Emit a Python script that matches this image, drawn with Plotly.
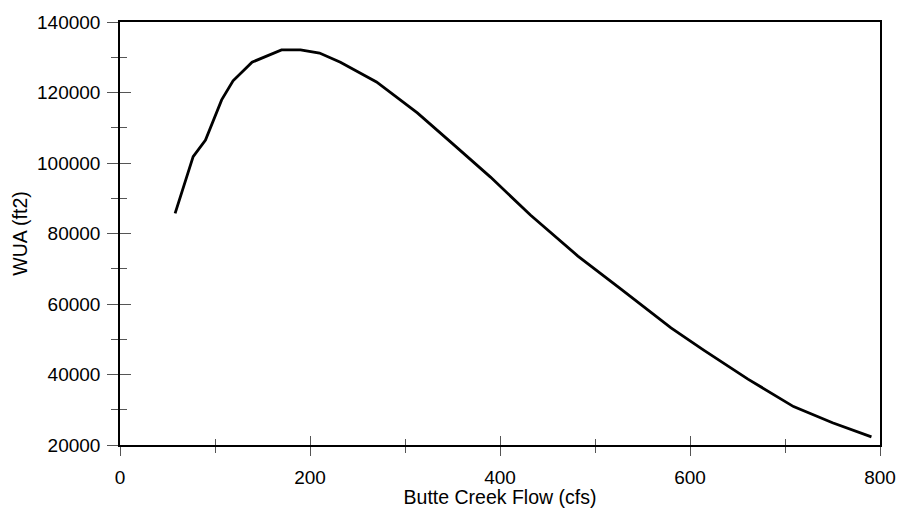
import plotly.graph_objects as go

flow = [58, 77, 90, 100, 107, 119, 139, 170, 190, 210, 232, 270, 313, 350, 390, 432, 482, 526, 553, 580, 614, 661, 709, 750, 791]
wua = [85700, 101800, 106500, 113000, 117900, 123300, 128600, 132100, 132100, 131200, 128600, 123000, 114200, 105500, 96000, 85250, 73600, 64500, 58800, 53200, 47000, 38700, 30900, 26300, 22300]

x_range = [0, 800]
y_range = [20000, 140000]
y_ticks = [20000, 40000, 60000, 80000, 100000, 120000, 140000]
y_labels = [str(v) for v in y_ticks]
x_ticks = [0, 200, 400, 600, 800]
x_labels = [str(v) for v in x_ticks]

font_family = "Liberation Sans, Arial, sans-serif"

fig = go.Figure()
fig.add_trace(go.Scatter(x=flow, y=wua, mode="lines",
                         line=dict(color="black", width=2.8), showlegend=False))
fig.add_trace(go.Scatter(x=[None], y=[None], xaxis="x2", yaxis="y2", showlegend=False))

common_axis = dict(showgrid=False, zeroline=False, linecolor="black", linewidth=1.5, automargin=False)

fig.update_layout(
    width=900, height=508,
    margin=dict(l=120, r=20, t=22, b=63),
    paper_bgcolor="white", plot_bgcolor="white",
    font=dict(family=font_family, size=19, color="black"),
    xaxis=dict(range=x_range, tickvals=x_ticks, ticktext=x_labels, ticks="outside", ticklen=9, tickwidth=1,
               tickcolor="#555", showline=True, mirror=True, ticklabelstandoff=5,
               minor=dict(dtick=100, ticks="outside", ticklen=6, tickcolor="#555"),
               title=dict(text="Butte Creek Flow (cfs)", standoff=5, font=dict(size=19.5)),
               tickfont=dict(size=19), **common_axis),
    yaxis=dict(range=y_range, tickvals=y_ticks, ticktext=y_labels, ticks="outside", ticklen=11, tickwidth=1,
               tickcolor="#555", showline=True, mirror=True, ticklabelstandoff=3,
               minor=dict(dtick=10000, ticks="outside", ticklen=7, tickcolor="#555"),
               title=dict(text="WUA (ft2)", standoff=4, font=dict(size=19.5)),
               tickfont=dict(size=19), **common_axis),
    xaxis2=dict(range=x_range, overlaying="x", anchor="y", tickvals=x_ticks, ticks="inside",
                ticklen=9, tickwidth=1, tickcolor="#555", showticklabels=False,
                minor=dict(dtick=100, ticks="inside", ticklen=6, tickcolor="#555"),
                showgrid=False, zeroline=False, showline=False, automargin=False),
    yaxis2=dict(range=y_range, overlaying="y", anchor="x", tickvals=y_ticks, ticks="inside",
                ticklen=11, tickwidth=1, tickcolor="#555", showticklabels=False,
                minor=dict(dtick=10000, ticks="inside", ticklen=7, tickcolor="#555"),
                showgrid=False, zeroline=False, showline=False, automargin=False),
)

fig.write_html("out.html")
